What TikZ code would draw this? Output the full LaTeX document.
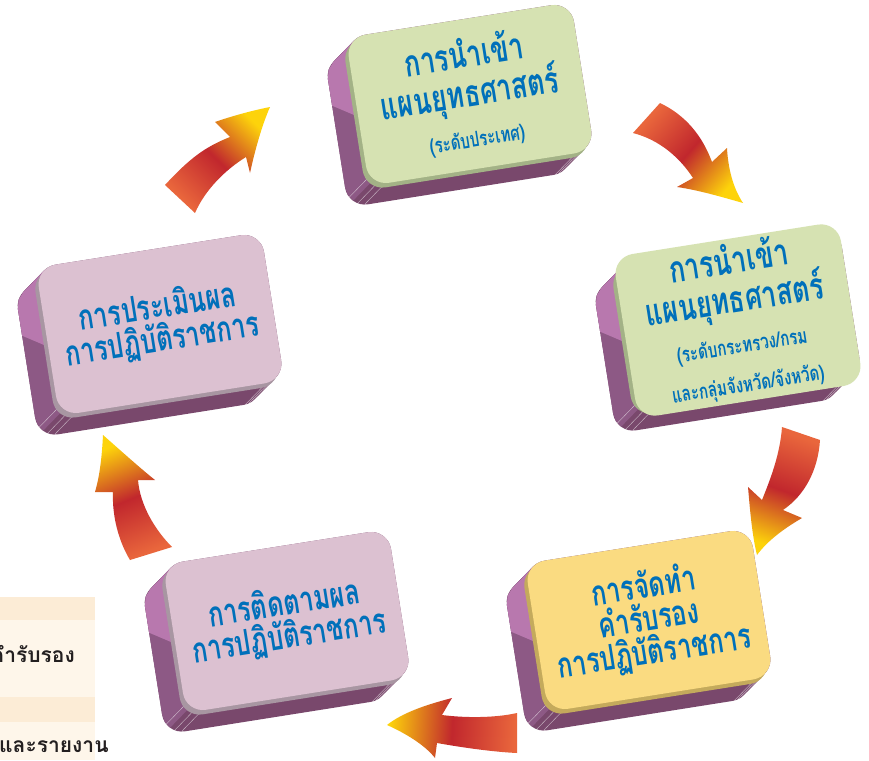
\documentclass[tikz,border=0pt]{standalone}
\usepackage{fontspec}
\newfontfamily\thaifont[Script=Thai]{Loma}
\newfontfamily\cardfont[Script=Thai,FakeStretch=0.72]{Loma}
\usetikzlibrary{positioning,backgrounds,calc}
\definecolor{cardgreen}{RGB}{214,226,178}
\definecolor{edgegreen}{RGB}{163,178,134}
\definecolor{cardyellow}{RGB}{250,219,129}
\definecolor{edgeyellow}{RGB}{196,170,92}
\definecolor{cardpink}{RGB}{220,193,209}
\definecolor{edgepink}{RGB}{168,150,162}
\definecolor{slabdark}{RGB}{121,72,108}
\definecolor{slabside}{RGB}{141,89,133}
\definecolor{slablight}{RGB}{184,120,174}
\definecolor{thaiblue}{RGB}{0,112,186}
\definecolor{arrowtail}{RGB}{233,102,60}
\definecolor{arrowmid}{RGB}{193,39,45}
\definecolor{arrowtip}{RGB}{253,211,11}
\definecolor{panelcream}{RGB}{254,246,234}
\definecolor{panelband}{RGB}{252,236,214}
\definecolor{panelink}{RGB}{35,31,32}

\newcommand{\cardbig}{\fontsize{37}{39}\selectfont}
\newcommand{\cardmid}{\fontsize{35}{33}\selectfont}
\newcommand{\cardsmall}{\fontsize{21}{24}\selectfont}

\tikzset{
  card/.style={rounded corners=20pt, minimum width=228pt, minimum height=150pt,
    rotate=9, align=center, text=thaiblue, inner sep=4pt},
  big text/.style={font=\cardfont\bfseries\cardbig},
  mid text/.style={font=\cardfont\bfseries\cardmid},
  flow/.style={left color=arrowtail, right color=arrowtip, middle color=arrowmid},
  panel text/.style={font=\thaifont\bfseries\fontsize{21}{24}\selectfont, text=panelink, inner sep=0pt},
}

% purple block behind a card: #1 node, #2 edge colour
\newcommand{\slab}[2]{%
  \begin{scope}[shift={(#1.center)}, rotate=9]
    \foreach \k in {24,23,...,0}
      \fill[slabdark, rounded corners=20pt] (-114-\k,-75+0.75*\k) rectangle ++(228,150);
    \fill[slabside] (-106,-71) -- (-130,-53) -- (-135.9,-45.9) -- (-138,-37) -- (-138,73)
      -- (-136.5,80.7) -- (-132.1,87.1) -- (-108.1,69.1) -- (-100,60) -- (-100,-60) -- cycle;
    \fill[slablight] (-106,-71) -- (-130,-53) -- (-135.9,-45.9) -- (-138,-37) -- (-138,-10)
      -- (-114,5) -- (-100,5) -- (-100,-60) -- cycle;
    \foreach \a in {100,120,150,60,75,85}
      \draw[white, opacity=0.6, line width=0.4pt]
        ({(\a<90?94:-94)+20*cos(\a)},{55+20*sin(\a)}) -- ++(-24,18);
    \fill[#2, rounded corners=20pt] (-118,-71) rectangle ++(228,150);
  \end{scope}}

\begin{document}
\begin{tikzpicture}[x=1pt, y=-1pt]
\useasboundingbox (0,0) rectangle (869,760);

% cut-off table on the left
\begin{scope}
  \clip (0,0) rectangle (869,760);
  \fill[panelcream] (0,597) rectangle (95,760);
  \fill[panelband] (0,597) rectangle (95,620);
  \fill[panelband] (0,697) rectangle (95,722);
  \node[panel text, anchor=base east] (sign) at (75,662) {คำรับรอง};
  \node[panel text, anchor=base west] (report) at (-1,752) {และรายงาน};
\end{scope}

% cards
\node[card, big text, fill=cardgreen] (plan) at (470,94)
  {การนำเข้า\\ แผนยุทธศาสตร์\\[2pt] \cardsmall (ระดับประเทศ)};
\node[card, big text, fill=cardgreen] (ministry) at (738,320)
  {การนำเข้า\\ แผนยุทธศาสตร์\\[2pt] \cardsmall (ระดับกระทรวง/กรม\\ \cardsmall และกลุ่มจังหวัด/จังหวัด)};
\node[card, mid text, fill=cardyellow] (contract) at (649,620)
  {การจัดทำ\\ คำรับรอง\\ การปฏิบัติราชการ};
\node[card, mid text, fill=cardpink] (monitor) at (287,621)
  {การติดตามผล\\ การปฏิบัติราชการ};
\node[card, mid text, fill=cardpink] (evaluate) at (160,324)
  {การประเมินผล\\ การปฏิบัติราชการ};

\begin{scope}[on background layer]
  \fill[white] (0,0) rectangle (869,760);
  \slab{plan}{edgegreen}
  \slab{ministry}{edgegreen}
  \slab{contract}{edgeyellow}
  \slab{monitor}{edgepink}
  \slab{evaluate}{edgepink}
\end{scope}

% arrows round the cycle
\shade[flow, shading angle=135.6] (165,185) .. controls (190,158) and (205,147) .. (230,137)
  -- (215,122) .. controls (235,115) and (255,110) .. (270,107)
  .. controls (262,125) and (255,150) .. (250,173) -- (246,157)
  .. controls (225,170) and (205,190) .. (195,213) -- cycle;
\shade[flow, shading angle=48.8] (633,133) -- (660,103) .. controls (685,115) and (702,135) .. (712,162)
  -- (727,148) .. controls (728,168) and (733,188) .. (743,203)
  .. controls (722,197) and (698,190) .. (677,187) -- (693,178)
  .. controls (680,158) and (660,140) .. (633,133) -- cycle;
\shade[flow, shading angle=-19.8] (782,427) -- (820,440) .. controls (818,470) and (805,495) .. (783,510)
  -- (802,518) .. controls (785,528) and (768,540) .. (757,555)
  .. controls (752,535) and (750,510) .. (748,487) -- (762,500)
  .. controls (770,480) and (780,455) .. (782,427) -- cycle;
\shade[flow, shading angle=266.5] (517,713) .. controls (495,718) and (465,718) .. (442,715)
  -- (452,698) .. controls (425,705) and (402,713) .. (387,725)
  .. controls (405,733) and (425,745) .. (435,758) -- (437,743)
  .. controls (465,748) and (495,752) .. (517,753) -- cycle;
\shade[flow, shading angle=202.1] (130,560) .. controls (118,540) and (112,515) .. (113,492)
  -- (95,492) .. controls (100,475) and (102,455) .. (103,435)
  .. controls (120,450) and (140,468) .. (155,480) -- (138,480)
  .. controls (140,505) and (155,530) .. (172,547) -- cycle;
\end{tikzpicture}
\end{document}
